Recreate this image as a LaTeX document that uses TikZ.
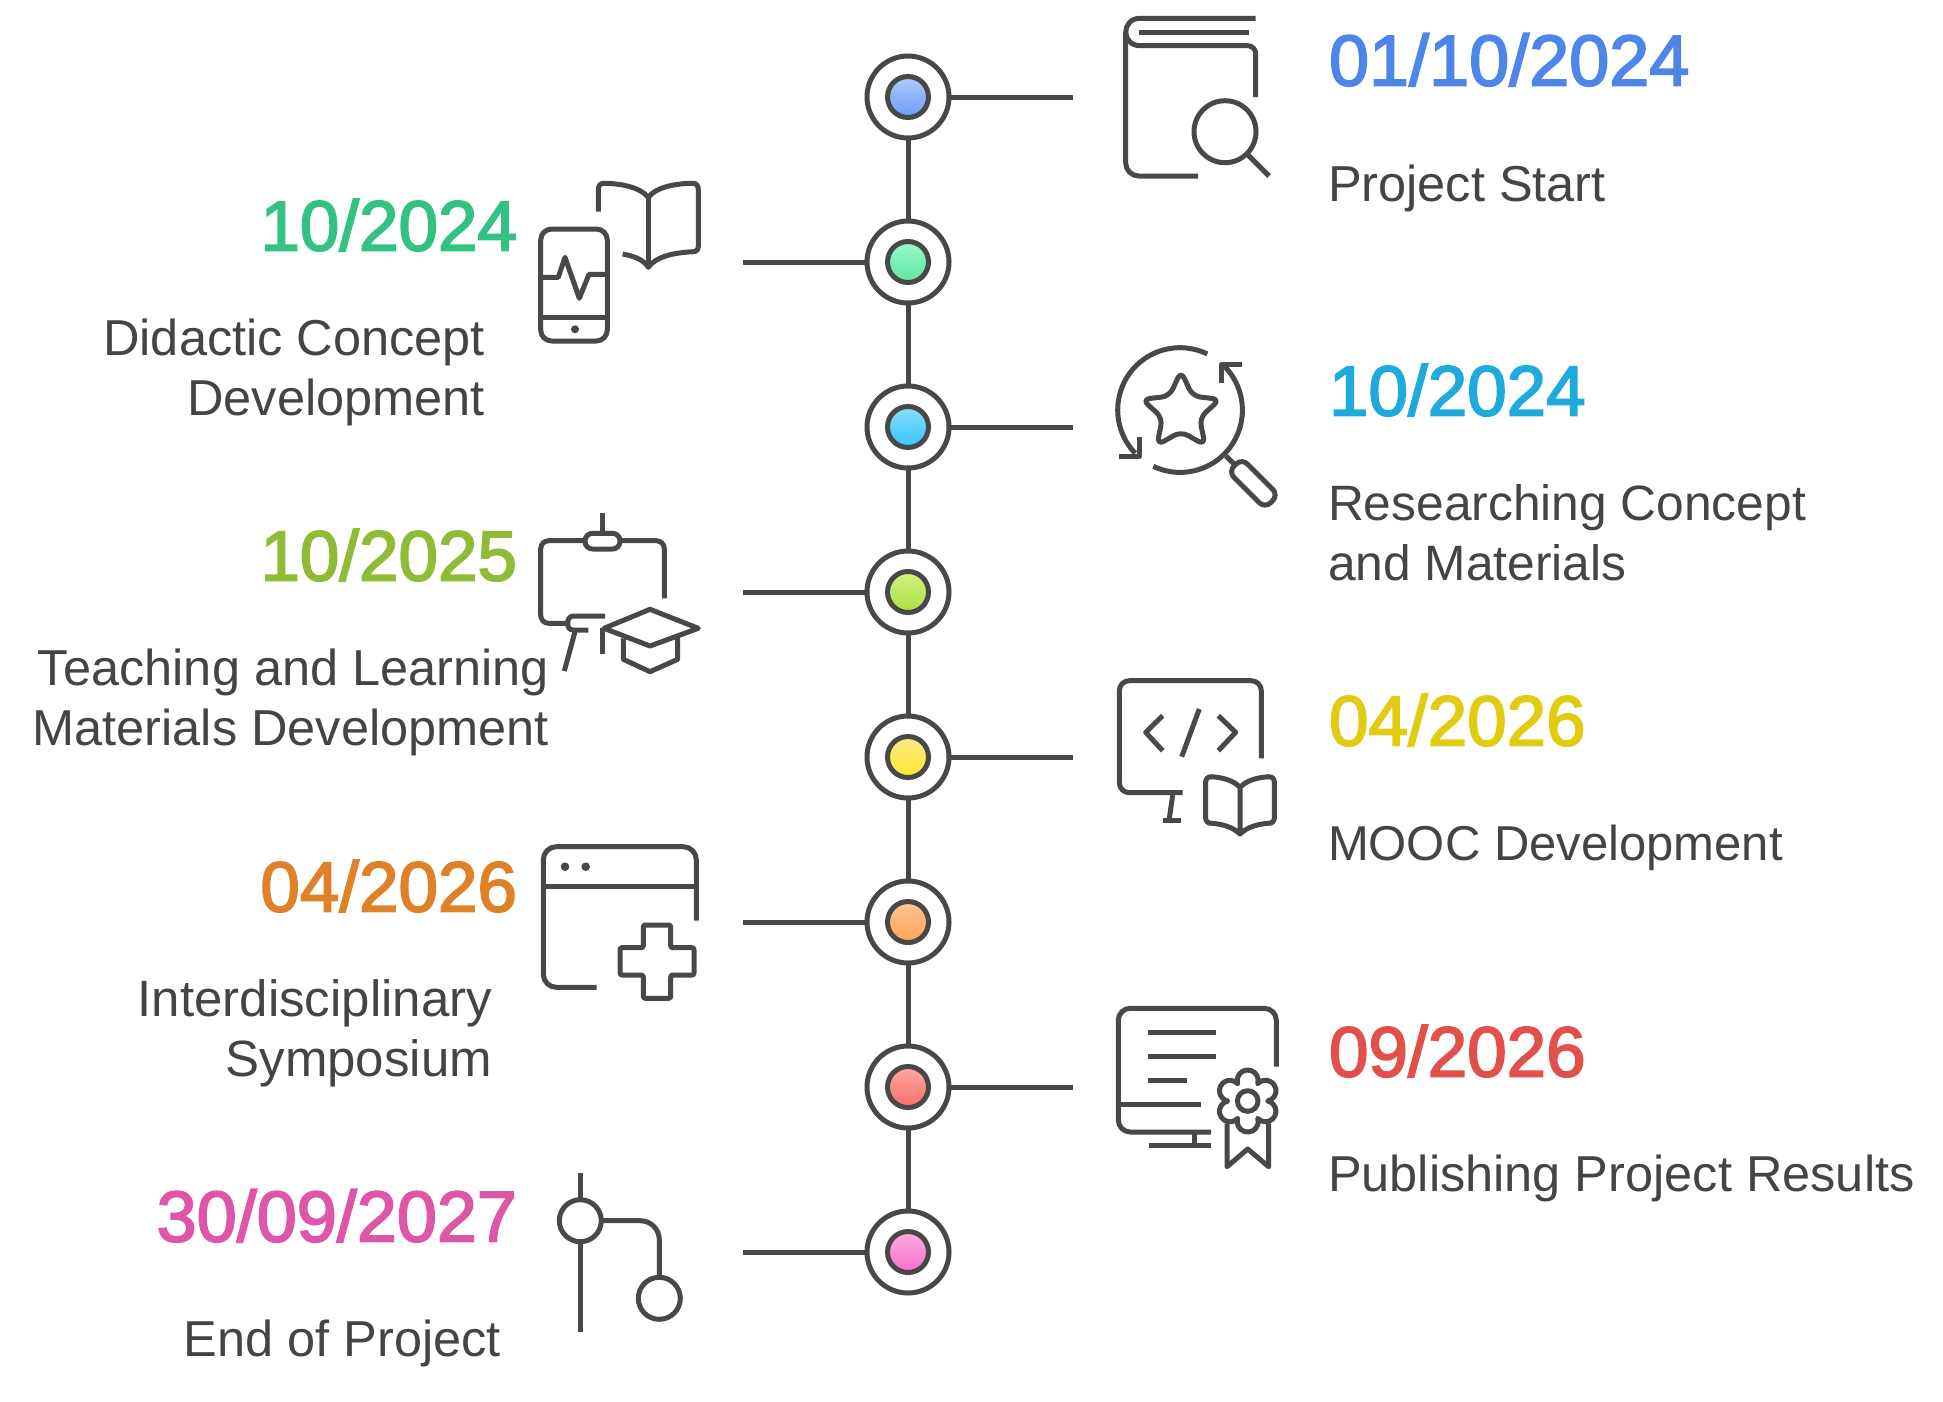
\documentclass[tikz,border=0pt]{standalone}
\usepackage{fontspec}
\setmainfont{Liberation Sans}
\newfontfamily\datefont[FakeBold=2.5]{Liberation Sans}
\definecolor{ink}{HTML}{484848}
\definecolor{txt}{HTML}{444444}
\definecolor{datea}{HTML}{4D86E8}
\definecolor{dateb}{HTML}{34C282}
\definecolor{datec}{HTML}{1EAADB}
\definecolor{dated}{HTML}{8FBB36}
\definecolor{datee}{HTML}{E2CC12}
\definecolor{datef}{HTML}{DF8128}
\definecolor{dateg}{HTML}{E2504C}
\definecolor{dateh}{HTML}{DD56A8}
\tikzset{
  icon/.style={draw=ink,line width=5pt,line join=round},
  ring/.style={circle,draw=ink,fill=white,line width=5pt,minimum size=82pt,inner sep=0pt,outer sep=0pt},
  dot/.style={circle,draw=ink,line width=5pt,minimum size=41pt,inner sep=0pt,outer sep=0pt},
  datelabel/.style={font=\datefont\fontsize{#1}{72}\selectfont,inner sep=0pt,outer sep=0pt},
  datelabel/.default=71,
  textlabel/.style={text=txt,font=\fontsize{#1}{60}\selectfont,inner sep=0pt,outer sep=0pt},
  textlabel/.default=50.5
}
\begin{document}
\begin{tikzpicture}[x=1pt,y=-1pt]
  \useasboundingbox (0,0) rectangle (1943,1401);

  % Eje
  \foreach \n/\y in {1/97,2/262,3/427,4/592,5/757,6/922,7/1087,8/1252}
    \node[ring] (ring\n) at (908,\y) {};
  \coordinate (end1) at (1073,97);
  \coordinate (end2) at (743,262);
  \coordinate (end3) at (1073,427);
  \coordinate (end4) at (743,592);
  \coordinate (end5) at (1073,757);
  \coordinate (end6) at (743,922);
  \coordinate (end7) at (1073,1087);
  \coordinate (end8) at (743,1252);
  \foreach \a/\b in {1/2,2/3,3/4,4/5,5/6,6/7,7/8}
    \draw[icon] (ring\a) -- (ring\b);
  \foreach \n in {1,...,8}
    \draw[icon] (ring\n) -- (end\n);

  % Puntos
  \foreach \n/\t/\b in {1/B0CAFC/6C9CF9,2/9AF9C8/5EE4A4,3/8CDDFC/35C4FA,4/D0F47F/ABE044,
                        5/FCEA88/FEE92E,6/FDC592/FBA555,7/FDA8A4/FA6E6A,8/FCACE2/F86FCA}{
    \definecolor{dottop}{HTML}{\t}
    \definecolor{dotbot}{HTML}{\b}
    \node[dot,top color=dottop,bottom color=dotbot] (dot\n) at (ring\n) {};
  }

  % Textos derecha
  \node[datelabel=72,anchor=base west,text=datea] (date1) at (1329,85.5) {01/10/2024};
  \node[textlabel,anchor=base west] (label1) at (1328,201.5) {Project Start};
  \node[datelabel,anchor=base west,text=datec] (date3) at (1329,415.5) {10/2024};
  \node[textlabel=49.7,anchor=base west,align=left] (label3) at (1328,580.5) {Researching Concept\\and Materials};
  \node[datelabel,anchor=base west,text=datee] (date5) at (1329,745.5) {04/2026};
  \node[textlabel=49,anchor=base west] (label5) at (1328,860.5) {MOOC Development};
  \node[datelabel,anchor=base west,text=dateg] (date7) at (1329,1076.5) {09/2026};
  \node[textlabel,anchor=base west] (label7) at (1328,1191.5) {Publishing Project Results};

  % Textos izquierda
  \node[datelabel,anchor=base east,text=dateb] (date2) at (517,250.5) {10/2024};
  \node[textlabel,anchor=base east,align=right] (label2) at (485,415.5) {Didactic Concept\\Development};
  \node[datelabel,anchor=base east,text=dated] (date4) at (517,580.5) {10/2025};
  \node[textlabel,anchor=base east,align=right] (label4) at (549,745.5) {Teaching and Learning\\Materials Development};
  \node[datelabel,anchor=base east,text=datef] (date6) at (517,911.5) {04/2026};
  \node[textlabel=51,anchor=base east,align=right] (label6) at (492,1076.5) {Interdisciplinary\\Symposium};
  \node[datelabel=72,anchor=base east,text=dateh] (date8) at (517,1241.5) {30/09/2027};
  \node[textlabel,anchor=base east] (label8) at (501,1356.5) {End of Project};

  % Libro y lupa
  \draw[icon] (1255.7,18.3) -- (1140,18.3) .. controls (1131,18.3) and (1125.7,25) .. (1125.7,32)
    .. controls (1125.7,39) and (1131,45.7) .. (1140,45.7) [rounded corners=8pt] -- (1255.7,45.7) -- (1255.7,97);
  \draw[icon,rounded corners=13pt] (1125.7,32) -- (1125.7,176) -- (1198,176);
  \draw[icon] (1139,32) -- (1249,32);
  \draw[icon] (1225,131.7) circle (31pt);
  \draw[icon] (1248,155) -- (1269,176);

  % Movil y libro
  \draw[icon,rounded corners=11pt] (540.7,229) rectangle (607.3,341);
  \draw[icon] (540.7,317) -- (607.3,317);
  \fill[ink] (575,329.3) circle (4pt);
  \draw[icon] (540.7,277.3) -- (558.3,277.3) -- (565,257.3) -- (579.3,298.3) -- (589,274.3) -- (607.3,274.3);
  \draw[icon] (598.3,211.7) -- (598.3,190) .. controls (598.3,186) and (600,183.3) .. (603.3,183.3)
    .. controls (620,183.3) and (640,187) .. (648.3,197.3) .. controls (656,187) and (676,183.3) .. (693.3,183.3)
    .. controls (696.5,183.3) and (698.3,186) .. (698.3,190) -- (698.3,246) .. controls (698.3,249.5) and (696.5,251.7) .. (693.3,251.7)
    .. controls (676,252.5) and (656,256) .. (648.3,267.3) .. controls (644,260) and (634,256) .. (622.7,254);
  \draw[icon] (648.3,197.3) -- (648.3,267.3);

  % Estrella y lupa
  \draw[icon] (1207.3,354) arc[start angle=64,end angle=224,radius=62.3pt];
  \draw[icon] (1153.3,466.3) arc[start angle=244.5,end angle=406,radius=62.3pt];
  \draw[icon] (1139.3,437.3) -- (1139.3,456.7) -- (1119.3,456.7);
  \draw[icon] (1221.7,383.3) -- (1221.7,364.3) -- (1241.7,364.3);
  \draw[icon,rounded corners=8pt] (1181,371) -- (1192.5,396.2) -- (1220,399.3) -- (1199.5,418) -- (1205.1,445.2)
    -- (1181,431.5) -- (1156.9,445.2) -- (1162.5,418) -- (1142,399.3) -- (1169.5,396.2) -- cycle;
  \draw[icon] (1226,456) -- (1235,465);
  \draw[icon,rounded corners=8pt] (1241.7,458.3) -- (1278.4,495) -- (1265,508.4) -- (1228.3,471.7) -- cycle;

  % Pizarra y birrete
  \draw[icon] (602.3,513.3) -- (602.3,532.3);
  \draw[icon,rounded corners=7.5pt] (585,533.3) rectangle (620,549);
  \draw[icon,rounded corners=8pt] (620,540.7) -- (664.3,540.7) -- (664.3,598.3);
  \draw[icon,rounded corners=8pt] (585,540.7) -- (540.7,540.7) -- (540.7,623.3) -- (567.7,623.3);
  \draw[icon] (605,616) -- (573.3,616) .. controls (569,616) and (567.7,620) .. (567.7,623.3)
    .. controls (567.7,627) and (569,630) .. (573.3,630) -- (588.3,630);
  \draw[icon] (575,631.7) -- (564.3,671);
  \draw[icon] (604,628.3) -- (650,609.3) -- (698.3,628.3) -- (650,646) -- cycle;
  \draw[icon] (602.3,628.3) -- (602.3,654);
  \draw[icon] (623.3,638.3) -- (623.3,659.3) -- (650,671.7) -- (677.7,659.3) -- (677.7,636.7);

  % Monitor con codigo y libro
  \draw[icon,rounded corners=10pt] (1261.3,758.3) -- (1261.3,680.7) -- (1119.3,680.7) -- (1119.3,792.7) -- (1182.7,792.7);
  \draw[icon] (1172.7,795) -- (1169,820.7);
  \draw[icon] (1162.7,820.7) -- (1181,820.7);
  \draw[icon] (1162.7,715.7) -- (1145.7,732.3) -- (1162.7,750.7);
  \draw[icon] (1199.3,709) -- (1181.7,756.7);
  \draw[icon] (1218.3,715.7) -- (1235.7,732.3) -- (1218.3,750.7);
  \draw[icon] (1240,787.3) .. controls (1233,780) and (1222,777.5) .. (1211.7,776.7)
    .. controls (1208,776.7) and (1205.7,778.5) .. (1205.7,781.7) -- (1205.7,818)
    .. controls (1205.7,821.5) and (1208,823.3) .. (1211.7,823.3)
    .. controls (1222,824) and (1233,827) .. (1240,834) .. controls (1247,827) and (1258,824) .. (1268.3,823.3)
    .. controls (1272,823.3) and (1274.3,821.5) .. (1274.3,818) -- (1274.3,781.7)
    .. controls (1274.3,778.5) and (1272,776.7) .. (1268.3,776.7)
    .. controls (1258,777.5) and (1247,780) .. (1240,787.3) -- (1240,834);

  % Ventana y cruz
  \draw[icon,rounded corners=13pt] (696.3,920.7) -- (696.3,846.7) -- (543.3,846.7) -- (543.3,987.3) -- (596.7,987.3);
  \draw[icon] (543.3,886.7) -- (696.3,886.7);
  \fill[ink] (565,866.7) circle (4.3pt) (585.7,866.7) circle (4.3pt);
  \draw[icon,rounded corners=2pt] (643.3,925) -- (670.7,925) -- (670.7,947.7) -- (694,947.7) -- (694,975) -- (670.7,975)
    -- (670.7,998.3) -- (643.3,998.3) -- (643.3,975) -- (620,975) -- (620,947.7) -- (643.3,947.7) -- cycle;

  % Monitor y certificado
  \draw[icon,rounded corners=12pt] (1276.3,1066.7) -- (1276.3,1008.3) -- (1118.3,1008.3) -- (1118.3,1132) -- (1211,1132);
  \draw[icon] (1118.3,1104.3) -- (1201,1104.3);
  \draw[icon] (1147.7,1032.3) -- (1216.3,1032.3);
  \draw[icon] (1147.7,1056.3) -- (1216.3,1056.3);
  \draw[icon] (1147.7,1080.3) -- (1187.3,1080.3);
  \draw[icon] (1194,1132) -- (1194,1145.7);
  \draw[icon] (1149.3,1145.7) -- (1211,1145.7);
  \draw[icon] (1257.7,1083.7) \foreach \a in {90,150,210,270,330,390}
    { arc[start angle=\a-107.8,end angle=\a+107.8,radius=10.5pt] } -- cycle;
  \draw[icon] (1247.7,1101) circle (10.3pt);
  \draw[icon] (1227,1123.3) -- (1227,1166.7) -- (1247.7,1149) -- (1268.7,1166.7) -- (1268.7,1123.3);

  % Ramas
  \draw[icon] (580.3,1173.3) -- (580.3,1199.7);
  \draw[icon] (580.3,1220.7) circle (21pt);
  \draw[icon] (580.3,1241.7) -- (580.3,1331.7);
  \draw[icon,rounded corners=19pt] (601.3,1220.7) -- (659.3,1220.7) -- (659.3,1277.3);
  \draw[icon] (659.3,1298.3) circle (21pt);
\end{tikzpicture}
\end{document}
